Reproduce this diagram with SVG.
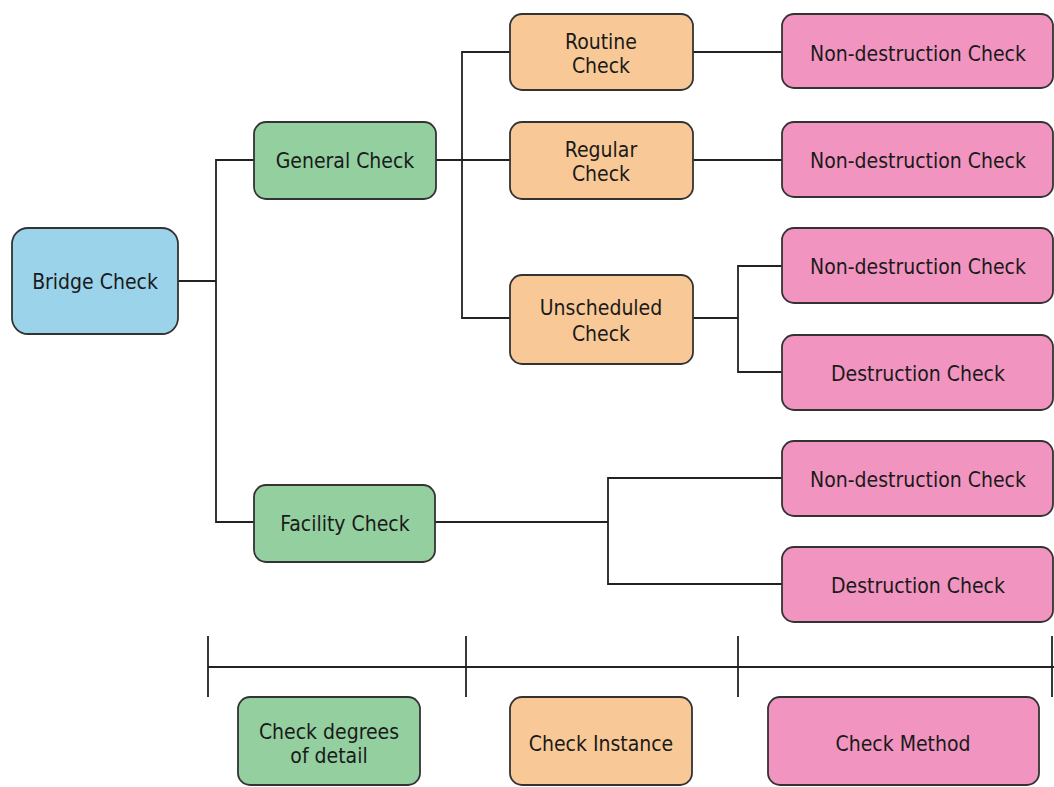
<svg xmlns="http://www.w3.org/2000/svg" width="1054" height="787" viewBox="0 0 1054 787">
<style>
.box{stroke:#333;stroke-width:1.8}
.blue{fill:#9ad3ea}
.green{fill:#93cf9f}
.orange{fill:#f8c996}
.pink{fill:#f194c0}
text{font-family:"DejaVu Sans Condensed","DejaVu Sans",sans-serif;font-size:21px;fill:#1a1a1a;text-anchor:middle}
.conn line,.conn polyline{stroke:#222;stroke-width:1.8;fill:none}
</style>
<rect width="1054" height="787" fill="#fff"/>
<g class="conn">
<line x1="178" y1="281" x2="216" y2="281"/>
<polyline points="254,160 216,160 216,522 254,522"/>
<line x1="436" y1="160" x2="510" y2="160"/>
<polyline points="510,52 462,52 462,318 510,318"/>
<line x1="693" y1="52" x2="782" y2="52"/>
<line x1="693" y1="160" x2="782" y2="160"/>
<line x1="693" y1="318" x2="738" y2="318"/>
<polyline points="782,266 738,266 738,372 782,372"/>
<line x1="435" y1="522" x2="608" y2="522"/>
<polyline points="782,478 608,478 608,584 782,584"/>
<line x1="208" y1="667" x2="1054" y2="667"/>
<line x1="208" y1="636" x2="208" y2="697"/>
<line x1="466" y1="636" x2="466" y2="697"/>
<line x1="738" y1="636" x2="738" y2="697"/>
<line x1="1052" y1="636" x2="1052" y2="697"/>
</g>
<g id="bridge"><rect class="box blue" x="12" y="228" width="166" height="106" rx="16"/><text x="95" y="289">Bridge Check</text></g>
<g id="general"><rect class="box green" x="254" y="122" width="182" height="77" rx="12"/><text x="345" y="168">General Check</text></g>
<g id="facility"><rect class="box green" x="254" y="485" width="181" height="77" rx="12"/><text x="345" y="531">Facility Check</text></g>
<g id="routine"><rect class="box orange" x="510" y="14" width="183" height="76" rx="12"/><text x="601" y="49">Routine</text><text x="601" y="73">Check</text></g>
<g id="regular"><rect class="box orange" x="510" y="122" width="183" height="77" rx="12"/><text x="601" y="157">Regular</text><text x="601" y="181">Check</text></g>
<g id="unscheduled"><rect class="box orange" x="510" y="275" width="183" height="89" rx="12"/><text x="601" y="315">Unscheduled</text><text x="601" y="341">Check</text></g>
<g id="nd1"><rect class="box pink" x="782" y="14" width="271" height="74" rx="12"/><text x="918" y="61">Non-destruction Check</text></g>
<g id="nd2"><rect class="box pink" x="782" y="122" width="271" height="75" rx="12"/><text x="918" y="168">Non-destruction Check</text></g>
<g id="nd3"><rect class="box pink" x="782" y="228" width="271" height="75" rx="12"/><text x="918" y="274">Non-destruction Check</text></g>
<g id="d1"><rect class="box pink" x="782" y="335" width="271" height="75" rx="12"/><text x="918" y="381">Destruction Check</text></g>
<g id="nd4"><rect class="box pink" x="782" y="441" width="271" height="75" rx="12"/><text x="918" y="487">Non-destruction Check</text></g>
<g id="d2"><rect class="box pink" x="782" y="547" width="271" height="75" rx="12"/><text x="918" y="593">Destruction Check</text></g>
<g id="legend-degrees"><rect class="box green" x="238" y="697" width="182" height="88" rx="12"/><text x="329" y="739">Check degrees</text><text x="329" y="763">of detail</text></g>
<g id="legend-instance"><rect class="box orange" x="510" y="697" width="182" height="88" rx="12"/><text x="601" y="751">Check Instance</text></g>
<g id="legend-method"><rect class="box pink" x="768" y="697" width="271" height="88" rx="12"/><text x="903" y="751">Check Method</text></g>
</svg>
